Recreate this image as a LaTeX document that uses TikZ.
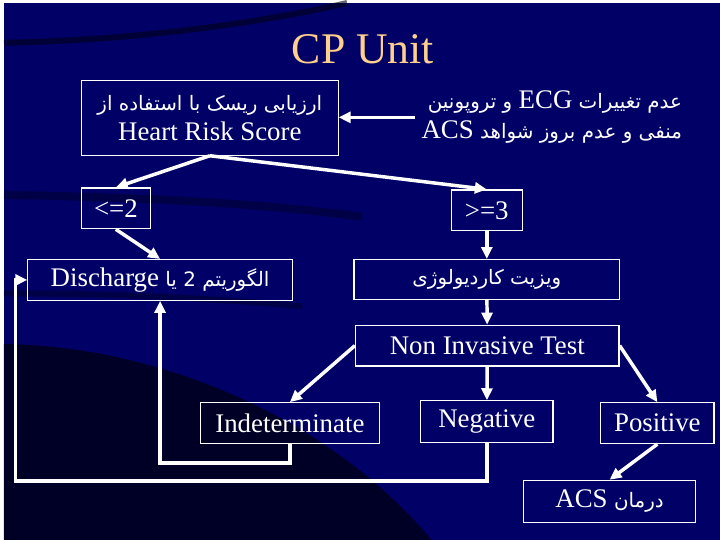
\documentclass[tikz,border=0pt]{standalone}
\usepackage{fontspec}
\setmainfont{Liberation Serif}
\newfontfamily\arabicfont[Script=Arabic]{DejaVu Sans}
\TeXXeTstate=1
\usetikzlibrary{arrows.meta,positioning}
\definecolor{slidebg}{RGB}{0,0,102}
\definecolor{slidedark}{RGB}{0,0,22}
\definecolor{titlecol}{RGB}{255,208,140}
% Persian text, and Latin words inside it
\newcommand{\fa}[1]{{\arabicfont\fontsize{20}{24}\selectfont\beginR #1\endR}}
\newcommand{\lat}[1]{{\beginL\rmfamily\fontsize{27}{30}\selectfont #1\endL}}
\tikzset{flowbox/.style={
    % The shape:
    rectangle,
    inner sep=2pt,
    % The border:
    draw=white,
    line width=1.2pt,
    % Font
    text=white,
    font=\rmfamily\fontsize{27}{30}\selectfont
    },
    flowarrow/.style={
    draw=white,
    line width=3.5pt,
    -{Triangle[length=12pt,width=11pt]},
    },
}

\begin{document}
\begin{tikzpicture}[x=1pt,y=-1pt]
    % slide background
    \fill[slidebg] (0,0) rectangle (720,540);
    \fill[slidedark,opacity=0.8] (0,343) .. controls (160,345) and (330,420) .. (430,540) -- (0,540) -- cycle;
    \draw[slidedark,opacity=0.6,line width=6pt] (0,40) .. controls (120,38) and (250,22) .. (345,0);
    \draw[slidedark,opacity=0.4,line width=8pt] (0,193) .. controls (120,195) and (250,200) .. (360,215);
    \draw[slidedark,opacity=0.4,line width=6pt] (0,292) .. controls (100,292) and (200,296) .. (300,305);

    \node (title) at (361,46) [text=titlecol,font=\fontsize{44}{50}\selectfont] {CP Unit};

    \node (risk)  [flowbox,minimum width=258pt,minimum height=75pt,align=center] at (207,115.5)
        {\fa{ارزیابی ریسک با استفاده از}\\Heart Risk Score};
    \node (cond)  [text=white,align=right,anchor=east,inner sep=6pt,font=\rmfamily\fontsize{27}{30}\selectfont] at (688,115)
        {\fa{عدم تغییرات \lat{ECG} و تروپونین}\\\fa{منفی و عدم بروز شواهد \lat{ACS}}};

    \node (le)    [flowbox,minimum width=69pt,minimum height=41pt] at (112.5,206.5) {\beginL<=2\endL};
    \node (ge)    [flowbox,minimum width=71pt,minimum height=41pt] at (485.5,208.5) {\beginL>=3\endL};
    \node (disch) [flowbox,minimum width=266pt,minimum height=41pt] at (157,278.5)
        {\fa{الگوریتم 2 یا \lat{Discharge}}};
    \node (visit) [flowbox,minimum width=267pt,minimum height=40pt] at (485.5,278) {\fa{ویزیت کاردیولوژی}};
    \node (nit)   [flowbox,minimum width=265pt,minimum height=41pt] at (486,344.5) {Non Invasive Test};
    \node (indet) [flowbox,minimum width=180pt,minimum height=41pt] at (287.5,422.5) {Indeterminate};
    \node (neg)   [flowbox,minimum width=133pt,minimum height=42pt] at (485.5,421) {Negative};
    \node (pos)   [flowbox,minimum width=114pt,minimum height=41pt] at (657,422.5) {Positive};
    \node (acs)   [flowbox,minimum width=173pt,minimum height=42pt] at (609,501) {\fa{درمان \lat{ACS}}};

    \draw[flowarrow] (cond.west) -- (cond.west -| risk.east);
    \draw[flowarrow] (risk.south) -- (le.north);
    \draw[flowarrow] (risk.south) -- (ge.north);
    \draw[flowarrow] (le.south) -- (disch.north);
    \draw[flowarrow] (ge) -- (visit);
    \draw[flowarrow] (visit) -- (nit);
    \draw[flowarrow] (nit.west) -- (indet.north);
    \draw[flowarrow] (nit) -- (neg);
    \draw[flowarrow] (nit.east) -- (pos.north);
    \draw[flowarrow] (pos.south) -- (acs.north);
    % back to discharge
    \draw[flowarrow] (indet.south) -- ++(0,19) -| (disch.south);
    \draw[flowarrow] (neg.south) -- ++(0,38) -| ([xshift=-12pt]disch.west) -- (disch.west);
\end{tikzpicture}
\end{document}
